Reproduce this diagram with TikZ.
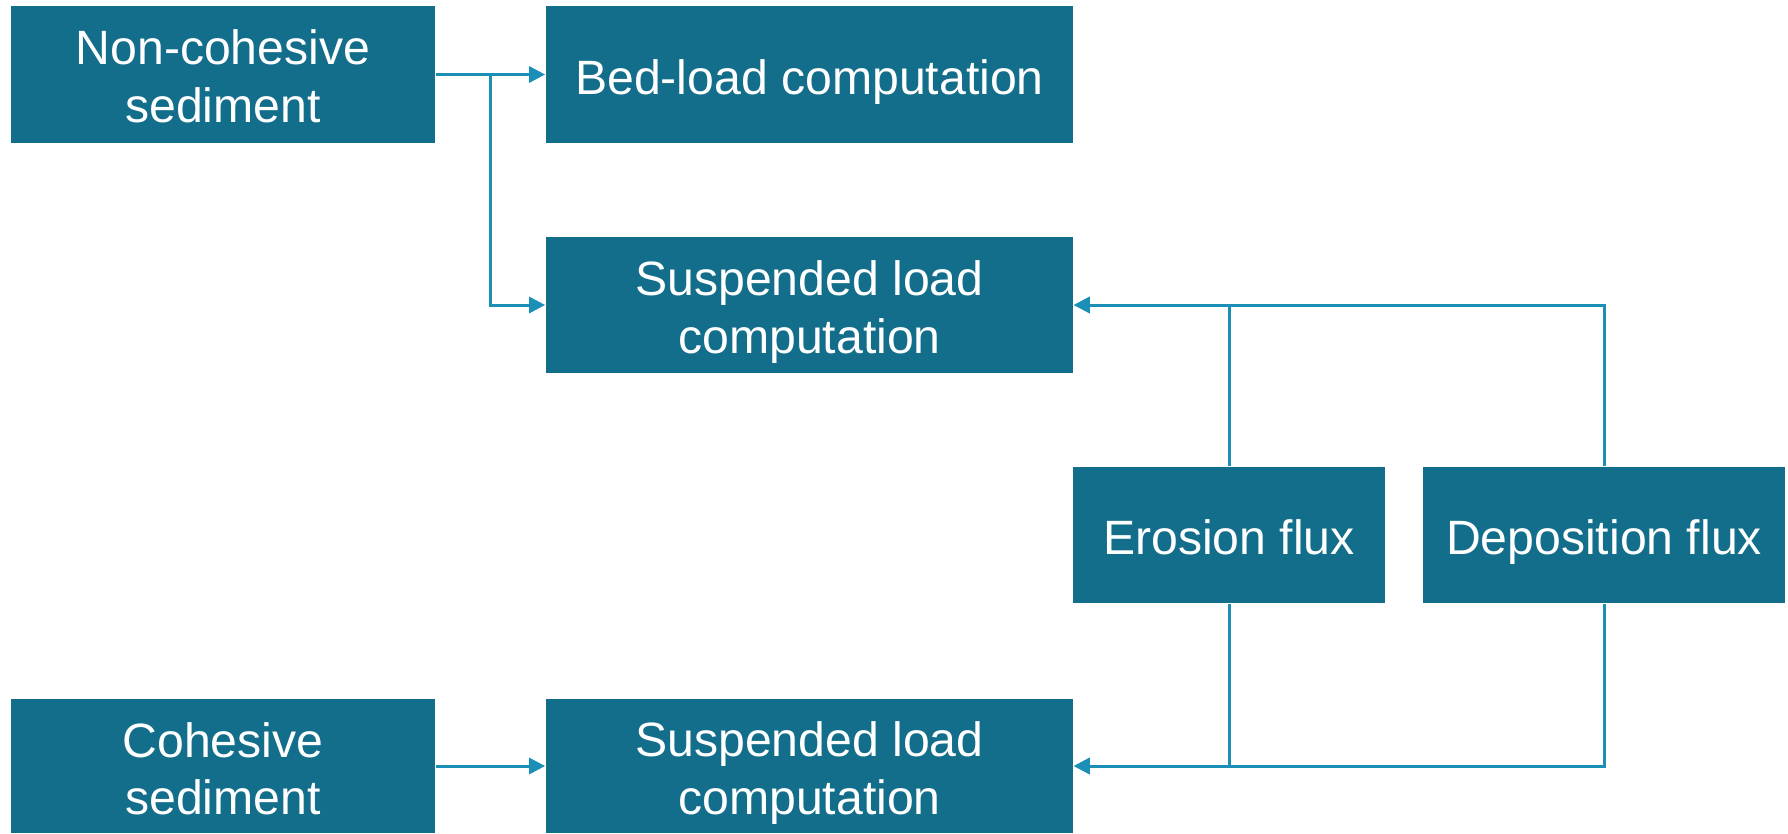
\documentclass[tikz,border=0pt]{standalone}
\usepackage{fontspec}
\setmainfont{Liberation Sans}
\usepackage{xcolor}
\usepackage{tikz}
\usetikzlibrary{positioning, arrows.meta, calc}
\definecolor{boxteal}{HTML}{126E8A}
\definecolor{lineblue}{HTML}{1B8FB5}
\newcommand{\tstrut}[1]{\rule{0pt}{#1}}

\tikzset{
  block/.style={fill=boxteal, draw=none, text=white, align=center, inner sep=0pt,
    font=\fontsize{13.7}{16.4}\selectfont, minimum height=1.36cm},
  flow/.style={draw=lineblue, line width=0.85pt, -{Triangle[length=0.16cm, width=0.16cm]}}
}

\begin{document}
\begin{tikzpicture}[x=0.01cm, y=-0.01cm]
    \useasboundingbox (0,0) rectangle (1788,833);
    % sources
    \node[block, minimum width=4.24cm, minimum height=1.37cm] (noncoh) at (223,74.5) {\tstrut{10.8pt}Non-cohesive\\sediment};
    \node[block, minimum width=4.24cm, minimum height=1.34cm] (coh) at (223,766) {\tstrut{11.5pt}Cohesive\\sediment};
    % computations
    \node[block, minimum width=5.27cm, minimum height=1.37cm] (bedload) at (809.5,74.5) {\tstrut{14pt}Bed-load computation};
    \node[block, minimum width=5.27cm] (susp1) at (809.5,305) {\tstrut{14pt}Suspended load\\computation};
    \node[block, minimum width=5.27cm, minimum height=1.34cm] (susp2) at (809.5,766) {\tstrut{14pt}Suspended load\\computation};
    % fluxes
    \node[block, minimum width=3.12cm] (erosion) at (1229,535) {\tstrut{11.4pt}Erosion flux};
    \node[block, minimum width=3.62cm] (depos) at (1604,535) {\tstrut{14pt}Deposition flux};

    \coordinate (split) at (490,74.5);
    \draw[flow] (noncoh.east) -- (bedload.west);
    \draw[flow] (split) |- (susp1.west);
    \draw[flow] (erosion.north) |- (susp1.east);
    \draw[flow] (depos.north) |- (susp1.east);
    \draw[flow] (erosion.south) |- (susp2.east);
    \draw[flow] (depos.south) |- (susp2.east);
    \draw[flow] (coh.east) -- (susp2.west);
  \end{tikzpicture}
\end{document}
